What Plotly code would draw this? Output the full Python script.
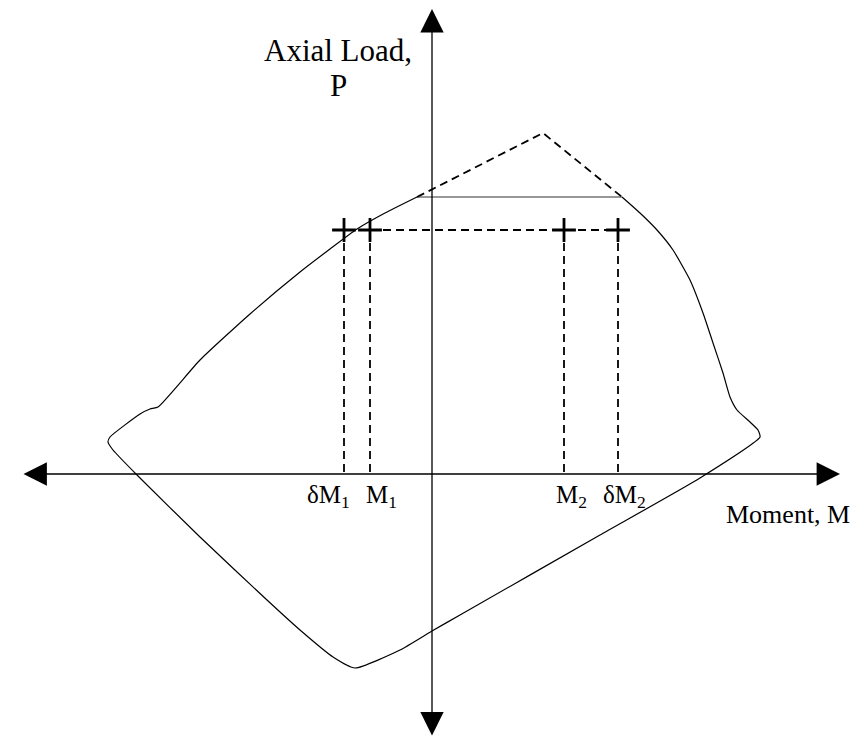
import plotly.graph_objects as go

# interaction diagram, moment M vs axial load P (origin at the axis crossing)
curve_m = [-15, -47, -75, -102, -132, -182, -232, -274, -282, -292, -322, -324, -319,
           -295, -232, -165, -132, -99, -77, -32, 0, 28, 168, 268, 328, 326, 318,
           305, 298, 291, 281, 271, 258, 241, 225, 208, 190]
curve_p = [277, 261, 245, 225, 202, 160, 114, 67, 65, 60, 37, 32, 24,
           -1, -63, -126, -156, -183, -194, -176, -157, -141, -61, -4, 37, 44, 52,
           64, 77, 101, 131, 161, 194, 224, 244, 261, 277]

cap_m = [-15, 190]
cap_p = [277, 277]

peak_m = [-15, 111, 190]
peak_p = [277, 341, 277]

load_p = 244
point_m = [-88, -62, 132, 186]
point_labels = ["δM<sub>1</sub>", "M<sub>1</sub>", "M<sub>2</sub>", "δM<sub>2</sub>"]
label_shift = [-16, 11, 7, 6]

m_min, m_max = -410, 408
p_min, p_max = -263, 465

FONT = "Liberation Serif"

fig = go.Figure()

fig.add_trace(go.Scatter(
    x=curve_m, y=curve_p, mode="lines",
    line=dict(color="black", width=1.2, shape="spline", smoothing=0.5)
))
fig.add_trace(go.Scatter(
    x=cap_m, y=cap_p, mode="lines",
    line=dict(color="#333333", width=1.2)
))
fig.add_trace(go.Scatter(
    x=peak_m, y=peak_p, mode="lines",
    line=dict(color="black", width=1.8, dash="8px,5px")
))

# dashed guide lines from the load level down to the moment axis
vx, vy = [], []
for m in point_m:
    vx += [m, m, None]
    vy += [load_p, 0, None]
fig.add_trace(go.Scatter(
    x=vx, y=vy, mode="lines",
    line=dict(color="black", width=1.8, dash="8px,5px")
))
fig.add_trace(go.Scatter(
    x=[point_m[1], point_m[3]], y=[load_p, load_p], mode="lines",
    line=dict(color="black", width=1.8, dash="8px,5px")
))
fig.add_trace(go.Scatter(
    x=point_m, y=[load_p] * len(point_m), mode="markers",
    marker=dict(symbol="cross-thin", size=17, line=dict(color="black", width=2.8))
))

# axes with arrow heads at both ends
arrow = dict(xref="x", yref="y", axref="x", ayref="y", text="", showarrow=True,
             arrowhead=2, startarrowhead=2, arrowside="end+start",
             arrowsize=3.6, startarrowsize=3.6, arrowwidth=1.3, arrowcolor="black")
fig.add_annotation(x=m_max, y=0, ax=m_min, ay=0, **arrow)
fig.add_annotation(x=0, y=p_max, ax=0, ay=p_min, **arrow)

for m, lab, dx in zip(point_m, point_labels, label_shift):
    fig.add_annotation(x=m + dx, y=-5, text=lab, showarrow=False,
                       xanchor="center", yanchor="top",
                       font=dict(family=FONT, size=25, color="black"))

fig.add_annotation(x=-94, y=424, text="Axial Load,", showarrow=False,
                   xanchor="center", yanchor="middle",
                   font=dict(family=FONT, size=31, color="black"))
fig.add_annotation(x=-94, y=389, text="P", showarrow=False,
                   xanchor="center", yanchor="middle",
                   font=dict(family=FONT, size=31, color="black"))
fig.add_annotation(x=420, y=-40, text="Moment, M", showarrow=False,
                   xanchor="right", yanchor="middle",
                   font=dict(family=FONT, size=26, color="black"))

# the page body has an 8px margin, so the figure starts 8px in from the corner
fig.update_layout(
    width=854, height=730, autosize=False,
    margin=dict(l=0, r=0, t=0, b=0),
    paper_bgcolor="white", plot_bgcolor="white",
    showlegend=False,
    xaxis=dict(visible=False, range=[-424, 430]),
    yaxis=dict(visible=False, range=[-264, 466]),
)

fig.write_html("out.html")
